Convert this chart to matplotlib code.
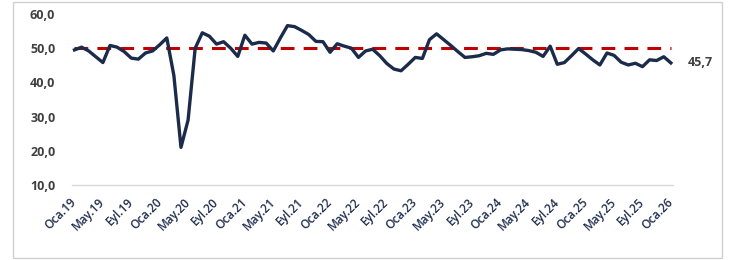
import matplotlib
matplotlib.use("Agg")
import matplotlib.pyplot as plt
from matplotlib.patches import Rectangle

month_names = ["Oca", "Şub", "Mar", "Nis", "May", "Haz", "Tem", "Ağu", "Eyl", "Eki", "Kas", "Ara"]
periods = [f"{month_names[m]}.{y % 100:02d}" for y in range(2019, 2027) for m in range(12)][:85]

values = [
    49.5, 50.3, 49.2, 47.5, 45.8, 50.8, 50.3, 49.0, 47.1, 46.8, 48.6, 49.2,
    51.0, 53.0, 42.0, 21.0, 29.0, 50.0, 54.5, 53.5, 51.2, 51.9, 50.0, 47.6,
    53.8, 51.2, 51.7, 51.5, 49.2, 53.0, 56.6, 56.3, 55.2, 54.0, 52.0, 51.9,
    48.8, 51.3, 50.6, 50.0, 47.3, 49.2, 49.7, 47.8, 45.5, 43.9, 43.4, 45.3,
    47.3, 47.0, 52.5, 54.2, 52.5, 50.8, 49.0, 47.3, 47.5, 47.8, 48.5, 48.2,
    49.5, 49.8, 49.7, 49.6, 49.3, 48.8, 47.6, 50.6, 45.3, 45.8, 47.8, 49.9,
    48.3, 46.6, 45.1, 48.6, 47.9, 45.9, 45.1, 45.6, 44.6, 46.6, 46.4, 47.5,
    45.7,
]
threshold = 50.0
yticks = [10, 20, 30, 40, 50, 60]
last_label = "45,7"

plt.rcParams['font.family'] = ['Open Sans', 'DejaVu Sans']

fig = plt.figure(figsize=(7.32, 2.60), dpi=100)
fig.patch.set_facecolor('white')
fig.patches.append(Rectangle((13/732, 2/260), 709/732, 256/260, transform=fig.transFigure,
                             fill=False, edgecolor='#d0d0d0', linewidth=1.0))

ax = fig.add_axes([72/732, 75/260, 601/732, 171/260])
x = list(range(len(values)))
ax.plot(x, [threshold]*len(x), color='#c00000', linewidth=2.2, dashes=(4.5, 3), zorder=2)
ax.plot(x, values, color='#1c2b4a', linewidth=2.4, solid_joinstyle='round', zorder=3)

ax.set_xlim(-0.35, 84.3)
ax.set_ylim(10, 60)
ax.set_yticks(yticks)
ax.set_yticklabels([f"{v:.1f}".replace('.', ',') for v in yticks],
                   fontsize=9, fontweight='bold', color='#404040')
ax.tick_params(axis='y', length=0, pad=12)

tick_idx = list(range(0, len(values), 4))
ax.set_xticks(tick_idx)
ax.set_xticklabels([periods[i] for i in tick_idx], rotation=45, ha='right', va='center',
                   rotation_mode='anchor', fontsize=8.5, fontweight='semibold', color='#1f2d4d')
ax.tick_params(axis='x', length=0, pad=11)

for s in ['top', 'right', 'left']:
    ax.spines[s].set_visible(False)
ax.spines['bottom'].set_color('#d9d9d9')
ax.spines['bottom'].set_linewidth(1.0)

ax.annotate(last_label, xy=(x[-1], values[-1]), xytext=(12, 0), textcoords='offset points',
            ha='left', va='center', fontsize=9, fontweight='bold', color='#404040')

fig.savefig('out.png', dpi=100, facecolor='white')
